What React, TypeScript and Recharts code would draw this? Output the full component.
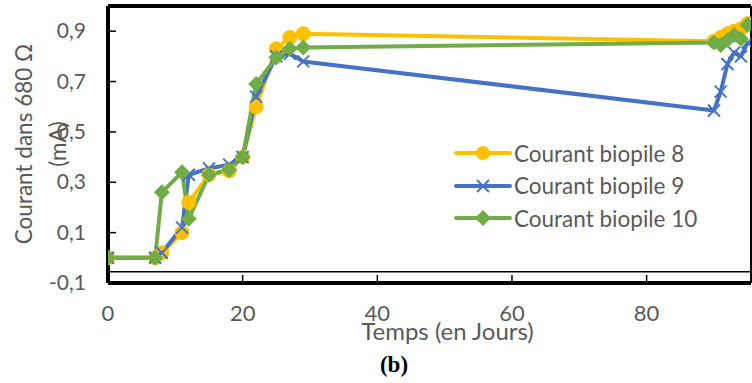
import { LineChart, Line, XAxis, YAxis, ReferenceLine } from 'recharts';

const days = [0, 7, 8, 11, 12, 15, 18, 20, 22, 25, 27, 29, 90, 91, 92, 93, 94, 95];
const biopile8 = [0, 0, 0.02, 0.1, 0.22, 0.33, 0.345, 0.4, 0.6, 0.83, 0.875, 0.89, 0.86, 0.875, 0.89, 0.9, 0.91, 0.93];
const biopile9 = [0, 0, 0.02, 0.12, 0.33, 0.355, 0.37, 0.4, 0.64, 0.8, 0.81, 0.78, 0.585, 0.66, 0.77, 0.815, 0.8, 0.855];
const biopile10 = [0, 0, 0.26, 0.34, 0.155, 0.33, 0.35, 0.4, 0.69, 0.795, 0.83, 0.835, 0.855, 0.845, 0.865, 0.885, 0.87, 0.925];
const xTicks = [0, 20, 40, 60, 80];
const yTicks = [-0.1, 0.1, 0.3, 0.5, 0.7, 0.9];

const data = days.map((d, i) => ({ day: d, b8: biopile8[i], b9: biopile9[i], b10: biopile10[i] }));

const YELLOW = '#FFC000';
const BLUE = '#4472C4';
const GREEN = '#70AD47';
const TEXT = '#595959';
const FONT = 'Lato, "Noto Sans", sans-serif';

const CircleDot = (props: any) => {
  const { cx, cy } = props;
  if (cx == null || cy == null) return null;
  return <circle cx={cx} cy={cy} r={7} fill={YELLOW} stroke={YELLOW} />;
};

const CrossDot = (props: any) => {
  const { cx, cy } = props;
  if (cx == null || cy == null) return null;
  return (
    <g stroke={BLUE} strokeWidth={2}>
      <line x1={cx - 6} y1={cy - 6} x2={cx + 6} y2={cy + 6} />
      <line x1={cx - 6} y1={cy + 6} x2={cx + 6} y2={cy - 6} />
    </g>
  );
};

const DiamondDot = (props: any) => {
  const { cx, cy } = props;
  if (cx == null || cy == null) return null;
  return <polygon points={`${cx},${cy - 8} ${cx + 8},${cy} ${cx},${cy + 8} ${cx - 8},${cy}`} fill={GREEN} />;
};

const XTick = (props: any) => {
  const { x, y, payload } = props;
  return (
    <g>
      <line x1={x} y1={y} x2={x} y2={y - 8} stroke="#000" strokeWidth={1.5} />
      <text x={x} y={y + 38} textAnchor="middle" fill={TEXT} fontSize={22} fontFamily={FONT}>
        {payload.value}
      </text>
    </g>
  );
};

const YTick = (props: any) => {
  const { x, y, payload } = props;
  const label = String(Math.round(payload.value * 10) / 10).replace('.', ',');
  return (
    <g>
      <line x1={x} y1={y} x2={x + 8} y2={y} stroke="#000" strokeWidth={1.5} />
      <text x={x - 22} y={y + 7} textAnchor="end" fill={TEXT} fontSize={21} fontFamily={FONT}>
        {label}
      </text>
    </g>
  );
};

const legendItems = [
  { name: 'Courant biopile 8', color: YELLOW, marker: 'circle' },
  { name: 'Courant biopile 9', color: BLUE, marker: 'cross' },
  { name: 'Courant biopile 10', color: GREEN, marker: 'diamond' },
];

const ChartLegend = () => (
  <div style={{ position: 'absolute', left: 454, top: 137, fontFamily: FONT, fontSize: 22.5, color: TEXT }}>
    {legendItems.map((it) => (
      <div key={it.name} style={{ display: 'flex', alignItems: 'center', height: 32.5 }}>
        <svg width={58} height={20} style={{ marginRight: 2 }}>
          <line x1={2} y1={10} x2={56} y2={10} stroke={it.color} strokeWidth={4} strokeLinecap="round" />
          {it.marker === 'circle' && <circle cx={29} cy={10} r={7} fill={it.color} />}
          {it.marker === 'cross' && (
            <g stroke={it.color} strokeWidth={2}>
              <line x1={23} y1={4} x2={35} y2={16} />
              <line x1={23} y1={16} x2={35} y2={4} />
            </g>
          )}
          {it.marker === 'diamond' && <polygon points="29,2 37,10 29,18 21,10" fill={it.color} />}
        </svg>
        <span>{it.name}</span>
      </div>
    ))}
  </div>
);

export default function App() {
  return (
    <div style={{ position: 'absolute', left: 0, top: 0, width: 752, height: 383, background: '#fff' }}>
      <LineChart width={752} height={383} data={data} margin={{ top: 6, right: 1, left: 8, bottom: 40 }}>
        <XAxis
          type="number"
          dataKey="day"
          domain={[0, 95.5]}
          ticks={xTicks}
          allowDataOverflow
          height={60}
          tickSize={0}
          tickMargin={0}
          tickLine={false}
          tick={<XTick />}
          axisLine={{ stroke: '#000', strokeWidth: 4 }}
          label={{
            content: ({ viewBox }: any) => (
              <text
                x={viewBox.x + viewBox.width / 2 + 18}
                y={viewBox.y + 57}
                textAnchor="middle"
                fill={TEXT}
                fontSize={24}
                fontFamily={FONT}
              >
                Temps (en Jours)
              </text>
            ),
          }}
        />
        <YAxis
          type="number"
          domain={[-0.1, 1]}
          ticks={yTicks}
          allowDataOverflow
          width={100}
          tickSize={0}
          tickMargin={0}
          tickLine={false}
          tick={<YTick />}
          axisLine={{ stroke: '#000', strokeWidth: 4 }}
          label={{
            content: ({ viewBox }: any) => {
              const cy = viewBox.y + 138;
              return (
                <g fill={TEXT} fontSize={22.5} fontFamily={FONT}>
                  <text transform={`translate(32, ${cy}) rotate(-90)`} textAnchor="middle">
                    Courant dans 680 Ω
                  </text>
                  <text transform={`translate(66, ${cy}) rotate(-90)`} textAnchor="middle">
                    (mA)
                  </text>
                </g>
              );
            },
          }}
        />
        <ReferenceLine y={1} stroke="#000" strokeWidth={4} />
        <ReferenceLine x={95.5} stroke="#000" strokeWidth={2} />
        <ReferenceLine y={-0.055} stroke="#000" strokeWidth={1.5} />
        <Line
          type="linear"
          dataKey="b8"
          stroke={YELLOW}
          strokeWidth={4}
          strokeLinejoin="round"
          dot={<CircleDot />}
          activeDot={false}
          isAnimationActive={false}
        />
        <Line
          type="linear"
          dataKey="b9"
          stroke={BLUE}
          strokeWidth={4}
          strokeLinejoin="round"
          dot={<CrossDot />}
          activeDot={false}
          isAnimationActive={false}
        />
        <Line
          type="linear"
          dataKey="b10"
          stroke={GREEN}
          strokeWidth={4}
          strokeLinejoin="round"
          dot={<DiamondDot />}
          activeDot={false}
          isAnimationActive={false}
        />
      </LineChart>
      <ChartLegend />
      <div
        style={{
          position: 'absolute',
          left: 0,
          width: 788,
          top: 352,
          textAlign: 'center',
          fontFamily: '"Liberation Serif", "Times New Roman", serif',
          fontWeight: 'bold',
          fontSize: 23,
          color: '#000',
        }}
      >
        (b)
      </div>
    </div>
  );
}
